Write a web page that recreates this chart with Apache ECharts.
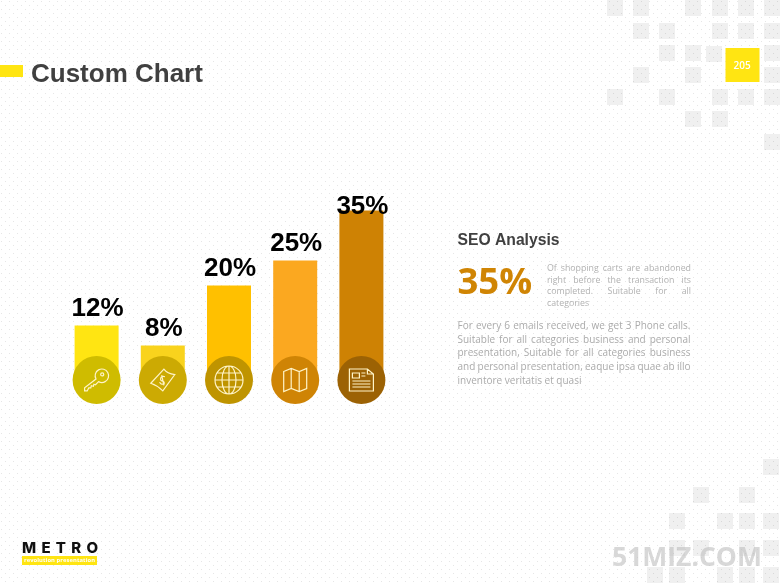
<!DOCTYPE html>
<html>
<head>
<meta charset="utf-8">
<title>Custom Chart</title>
<style>
html, body { margin: 0; padding: 0; background: #fff; }
#chart { width: 780px; height: 585px; }
</style>
<script src="https://cdn.jsdelivr.net/npm/echarts@6/dist/echarts.min.js"></script>
</head>
<body>
<div id="chart"></div>
<script>
// Chart data
const categories = ['Key', 'Money', 'Globe', 'Map', 'News'];
const percentValues = [12, 8, 20, 25, 35];
const circleLevels = [1.1, 1.1, 1.1, 1.1, 1.1];
const valueMax = 40;

// Colours
const barColors = ['#FFE512', '#F9D31D', '#FFC000', '#FBA820', '#CE8204'];
const circleColors = ['#CFBC00', '#CCAA03', '#BF9400', '#CF8405', '#9C6204'];

// Icon outlines, one per category
const iconPaths = [
  'path://M11.5 10.5A6.5 6.5 0 1 1 14 13L11 16L9.5 15.5L9 17.5L7 17L6.5 19L4.5 19L3 22L.5 22L.5 19ZM17.5 4.5a1.5 1.5 0 1 0 .01 0Z',
  'path://M1 14L13 1Q16 5 23 6L12 21Q7 16 1 14ZM14 8Q10 7 10 10Q10 12 12 12Q14 13 13 15Q10 15 9 13M11 6.5L13 16',
  'path://M0 12A12 12 0 1 1 24 12A12 12 0 1 1 0 12ZM6 12A6 12 0 1 1 18 12A6 12 0 1 1 6 12ZM0 12L24 12M12 0L12 24M2 6L22 6M2 18L22 18',
  'path://M0 3L7.5 0L15.5 3L23 0L23 20L15.5 23L7.5 20L0 23ZM7.5 0L7.5 20M15.5 3L15.5 23',
  'path://M0 0L18 0L24 5L24 22L0 22ZM18 0L18 5L24 5M3 4L10 4L10 9L3 9ZM12 4L16 4M12 7L16 7M3 12L21 12M3 15L21 15M3 18L21 18'
];
const iconSizes = [24, 24, 28, 23, 24];

// Side text
const smallLines = [
  'Of shopping carts are abandoned',
  'right before the transaction its',
  'completed. Suitable for all',
  'categories'
];
const bodyLines = [
  'For every 6 emails received, we get 3 Phone calls.',
  'Suitable for all categories business and personal',
  'presentation, Suitable for all categories business',
  'and personal presentation, eaque ipsa quae ab illo',
  'inventore veritatis et quasi'
];

// Decorative squares as [x, y]
const topSquares = [
  [607, 0], [633, 0], [685, 0], [712, 0], [738, 0], [764, 0],
  [633, 23], [659, 23], [712, 23], [738, 23], [764, 23],
  [659, 45], [685, 45], [706, 46], [764, 45],
  [633, 67], [685, 67], [764, 67],
  [607, 89], [659, 89], [712, 89], [738, 89], [764, 89],
  [685, 111], [712, 111],
  [764, 134]
];
const bottomSquares = [
  [763, 459],
  [693, 487], [739, 487],
  [669, 513], [717, 513], [739, 513], [763, 513],
  [669, 540], [693, 540], [739, 540], [763, 540],
  [647, 567], [669, 567], [717, 567], [739, 567], [763, 567]
];

const measureCtx = document.createElement('canvas').getContext('2d');

/**
 * Spread the parts of one line over a fixed width, so it reads as justified
 */
function spreadLine(parts, x, y, width, font, fill, lastLine) {
  measureCtx.font = font;
  const widths = parts.map((part) => measureCtx.measureText(part).width);
  const total = widths.reduce((sum, w) => sum + w, 0);
  const gap = lastLine ? measureCtx.measureText(' ').width : (width - total) / (parts.length - 1);
  let left = x;
  return parts.map((part, i) => {
    const item = {
      type: 'text',
      left: left,
      top: y,
      silent: true,
      style: {text: part, font: font, fill: fill},
    };
    left += widths[i] + gap;
    return item;
  });
}

function squareItems(squares) {
  return squares.map((square) => ({
    type: 'rect',
    silent: true,
    shape: {x: square[0], y: square[1], width: 16, height: 16},
    style: {fill: 'rgba(0,0,0,0.06)'},
  }));
}

function dotPattern() {
  const canvas = document.createElement('canvas');
  canvas.width = 8;
  canvas.height = 8;
  const ctx = canvas.getContext('2d');
  ctx.fillStyle = '#FFFFFF';
  ctx.fillRect(0, 0, 8, 8);
  ctx.fillStyle = '#E6E6E6';
  ctx.fillRect(1, 1, 1, 1);
  ctx.fillRect(5, 5, 1, 1);
  return canvas;
}

const graphics = [
  ...squareItems(topSquares),
  ...squareItems(bottomSquares),
  {type: 'rect', silent: true, shape: {x: 725.5, y: 48, width: 34, height: 34}, style: {fill: '#FFE512'}},
  {type: 'text', left: 733.5, top: 61, silent: true, style: {text: '205', font: '600 10px "Open Sans"', fill: '#FFFFFF'}},
  {type: 'rect', silent: true, shape: {x: 0, y: 65, width: 23, height: 12}, style: {fill: '#FFE512'}},
  {type: 'text', left: 31, top: 62, silent: true, style: {text: 'Custom Chart', font: 'bold 26px "Liberation Sans"', fill: '#404040'}},
  {type: 'text', left: 457.5, top: 233, silent: true, style: {text: 'SEO Analysis', font: 'bold 15.7px "Liberation Sans"', fill: '#404040'}},
  {type: 'text', left: 457.5, top: 265, silent: true, style: {text: '35%', font: 'bold 36.5px "Open Sans"', fill: '#D08504'}},
  {type: 'text', left: 612, top: 545, silent: true, style: {text: '51MIZ.COM', font: 'bold 26.5px "Open Sans"', fill: 'rgba(190,190,190,0.6)'}},
  {type: 'rect', silent: true, shape: {x: 22, y: 556, width: 75, height: 9}, style: {fill: '#FFE512'}},
];

smallLines.forEach((line, i) => {
  const last = i === smallLines.length - 1;
  graphics.push(...spreadLine(line.split(' '), 547, 264 + i * 11.6, 144, '8.8px "Open Sans"', '#B2B2B2', last));
});
bodyLines.forEach((line, i) => {
  const last = i === bodyLines.length - 1;
  graphics.push(...spreadLine(line.split(' '), 457.5, 321 + i * 13.8, 233, '10px "Open Sans"', '#ABABAB', last));
});
graphics.push(...spreadLine('METRO'.split(''), 22, 541, 76, '800 15px "Inter"', '#111111', false));
graphics.push(...spreadLine('revolution presentation'.split(''), 24, 557.5, 71, 'bold 5.8px "Open Sans"', '#FFFFFF', false));

const chart = echarts.init(document.getElementById('chart'));

chart.setOption({
  backgroundColor: {image: dotPattern(), repeat: 'repeat'},
  animation: false,
  grid: {left: 63.5, top: 185.5, width: 331, height: 200},
  xAxis: {type: 'category', data: categories, show: false},
  yAxis: {type: 'value', min: 0, max: valueMax, show: false},
  graphic: graphics,
  series: [
    {
      type: 'bar',
      barWidth: 44,
      z: 2,
      data: percentValues.map((value, i) => ({
        value: value,
        itemStyle: {color: barColors[i]},
        label: {offset: i === percentValues.length - 1 ? [1, 13] : [1, 0]},
      })),
      label: {
        show: true,
        position: 'top',
        distance: 4,
        formatter: '{c}%',
        color: '#000000',
        fontFamily: 'Liberation Sans',
        fontWeight: 'bold',
        fontSize: 26,
      },
    },
    {
      type: 'scatter',
      z: 3,
      symbol: 'circle',
      symbolSize: 48,
      silent: true,
      itemStyle: {opacity: 1},
      data: circleLevels.map((level, i) => ({
        value: [categories[i], level],
        itemStyle: {color: circleColors[i], opacity: 1},
      })),
    },
    {
      type: 'scatter',
      z: 4,
      silent: true,
      symbolKeepAspect: true,
      data: circleLevels.map((level, i) => ({
        value: [categories[i], level],
        symbol: iconPaths[i],
        symbolSize: iconSizes[i],
      })),
      itemStyle: {color: 'rgba(0,0,0,0)', borderColor: '#FFF4C8', borderWidth: 1.2, opacity: 1},
    },
  ],
});
</script>
</body>
</html>
